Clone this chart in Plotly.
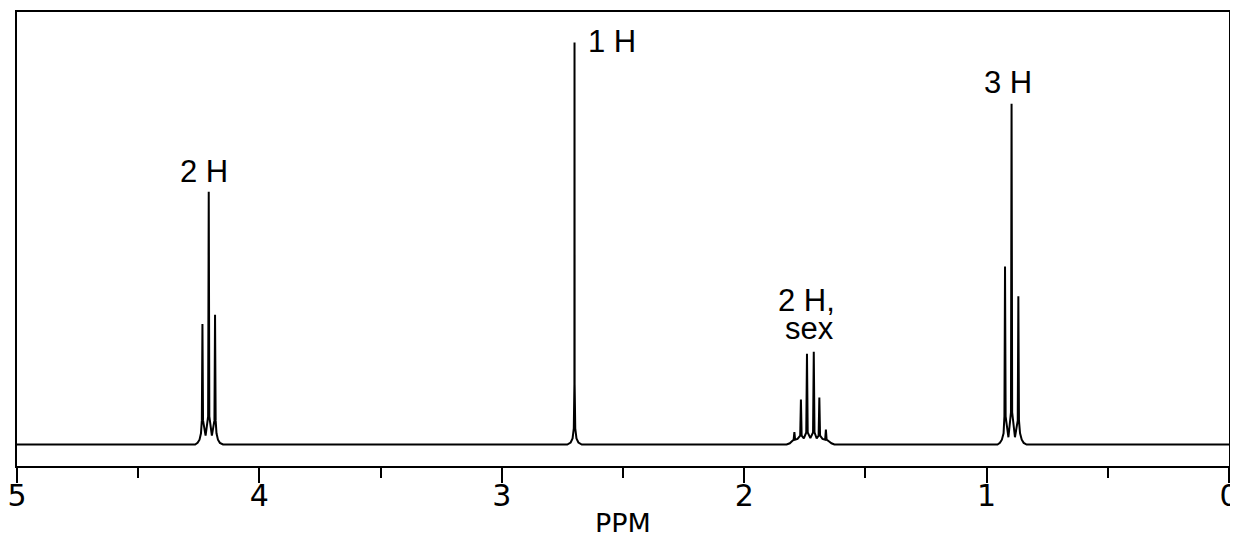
import plotly.graph_objects as go

# 1H NMR spectrum, vertices (ppm, relative intensity)
quartet_ppm = [4.265, 4.255, 4.247, 4.241, 4.2375, 4.235, 4.2325, 4.222, 4.2115, 4.209,
               4.2065, 4.196, 4.1855, 4.183, 4.1805, 4.177, 4.171, 4.163, 4.150]
quartet_int = [0, 0.4, 1.2, 2.8, 6.0, 30.0, 6.0, 2.2, 7.0, 62.9,
               7.0, 2.2, 6.0, 32.3, 6.0, 2.8, 1.2, 0.4, 0]

singlet_ppm = [2.730, 2.716, 2.708, 2.703, 2.7005, 2.700, 2.6995, 2.697, 2.692, 2.684, 2.670]
singlet_int = [0, 0.5, 1.5, 4.0, 15.0, 100.0, 15.0, 4.0, 1.5, 0.5, 0]

sextet_ppm = [1.825, 1.812, 1.803, 1.796, 1.793, 1.790, 1.780, 1.769, 1.766, 1.763,
              1.754, 1.744, 1.741, 1.738, 1.727, 1.716, 1.713, 1.710, 1.701, 1.693,
              1.690, 1.687, 1.677, 1.666, 1.663, 1.660, 1.651, 1.640, 1.628]
sextet_int = [0, 0.3, 0.8, 1.2, 3.1, 1.2, 1.4, 2.2, 11.2, 2.2,
              1.5, 3.0, 22.6, 3.0, 1.6, 3.0, 23.1, 3.0, 1.5, 2.2,
              11.7, 2.2, 1.4, 1.2, 3.7, 1.2, 0.8, 0.3, 0]

triplet_ppm = [0.955, 0.945, 0.937, 0.930, 0.9265, 0.924, 0.9215, 0.910, 0.8995, 0.897,
               0.8945, 0.883, 0.8715, 0.869, 0.8665, 0.862, 0.855, 0.847, 0.835]
triplet_int = [0, 0.4, 1.2, 2.8, 7.0, 44.3, 7.0, 1.8, 8.0, 84.8,
               8.0, 1.8, 6.0, 36.9, 6.0, 2.8, 1.2, 0.4, 0]

# peak labels: (text, ppm, intensity)
label_text = ['2 H', '1 H', '2 H,', 'sex', '3 H']
label_ppm = [4.227, 2.545, 1.742, 1.730, 0.912]
label_int = [67.9, 100.2, 35.9, 28.9, 90.1]

x_ticks = [5, 4, 3, 2, 1, 0]

ppm = [5.0] + quartet_ppm + singlet_ppm + sextet_ppm + triplet_ppm + [0.0]
intensity = [0] + quartet_int + singlet_int + sextet_int + triplet_int + [0]

fig = go.Figure()
fig.add_trace(go.Scatter(
    x=ppm,
    y=intensity,
    mode='lines',
    line=dict(color='black', width=2),
    hoverinfo='skip',
    showlegend=False
))

for text, px_, py_ in zip(label_text, label_ppm, label_int):
    fig.add_annotation(
        x=px_, y=py_, text=text, showarrow=False,
        xanchor='center', yanchor='middle',
        font=dict(family='Liberation Sans, Arial', size=31, color='black')
    )

fig.add_annotation(
    xref='paper', yref='paper', x=0.5, y=-0.126, text='PPM', showarrow=False,
    xanchor='center', yanchor='middle',
    font=dict(family='DejaVu Sans', size=27, color='black')
)

# page body keeps its default 8px margin, so the figure is sized to fit inside it
fig.update_layout(
    width=1222,
    height=524,
    margin=dict(l=9, r=1, t=4, b=66),
    plot_bgcolor='white',
    paper_bgcolor='white',
    xaxis=dict(
        range=[5, 0],
        tickvals=x_ticks,
        ticktext=[str(v) for v in x_ticks],
        ticks='outside', ticklen=15, tickwidth=2, tickcolor='black',
        ticklabelstandoff=-13,
        ticklabeloverflow='allow',
        showline=True, linewidth=2, linecolor='black', mirror=True,
        showgrid=False, zeroline=False, automargin=False,
        tickfont=dict(family='DejaVu Sans', size=30, color='black'),
        minor=dict(dtick=0.5, tick0=0, ticks='outside', ticklen=10,
                   tickwidth=2, tickcolor='black', showgrid=False)
    ),
    yaxis=dict(
        range=[-5.35, 107.6],
        showline=True, linewidth=2, linecolor='black', mirror=True,
        showticklabels=False, ticks='', showgrid=False, zeroline=False,
        automargin=False
    )
)

fig.write_html("out.html")
